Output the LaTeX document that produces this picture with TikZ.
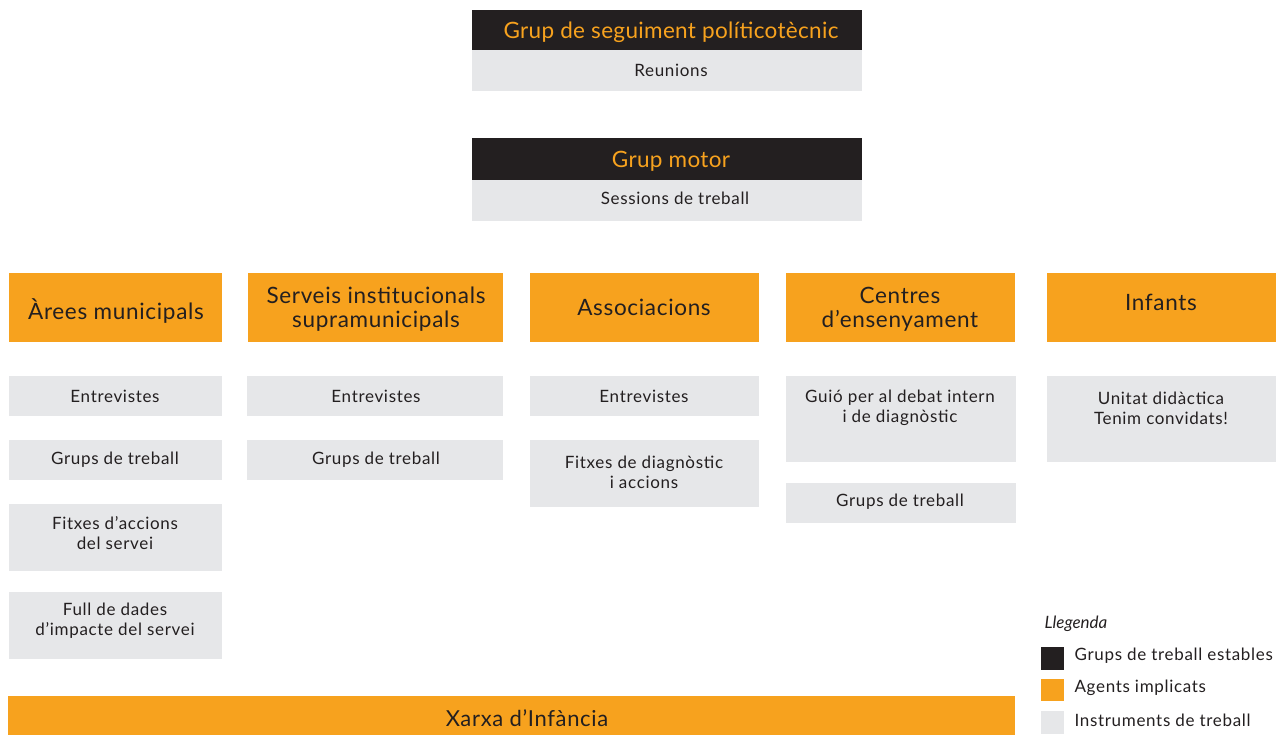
\documentclass[tikz,border=0pt]{standalone}
\usepackage{fontspec}
\setmainfont{Lato}
\newfontfamily\wideA[LetterSpace=4]{Lato}
\newfontfamily\wideB[LetterSpace=3]{Lato}
\newfontfamily\wideC[LetterSpace=1.5]{Lato}
\definecolor{ora}{HTML}{F7A21E}
\definecolor{blk}{HTML}{231F20}
\definecolor{gry}{HTML}{E6E7E9}
\definecolor{txt}{HTML}{231F20}
\begin{document}
\begin{tikzpicture}[x=1pt,y=-1pt,
  box/.style={inner sep=0pt, outer sep=0pt, anchor=north west},
  blkbox/.style={box, fill=blk},
  orabox/.style={box, fill=ora},
  grybox/.style={box, fill=gry},
  head/.style={text=ora, font=\wideC\fontsize{22.5}{24}\selectfont},
  agent/.style={text=txt, font=\wideB\fontsize{22.5}{24}\selectfont, align=center},
  instr/.style={text=txt, font=\wideA\fontsize{17}{20}\selectfont, align=center},
  leg/.style={text=txt, font=\wideA\fontsize{17}{20}\selectfont, anchor=west}
]
\useasboundingbox (0,0) rectangle (1285,735);
% top groups
\node[blkbox, minimum width=390, minimum height=40] (g1) at (472,10) {};
\node[grybox, minimum width=390, minimum height=41] (g1i) at (472,50) {};
\node[head] (g1t) at (671,32) {Grup de seguiment políticotècnic};
\node[instr] (g1it) at (671,70) {Reunions};
\node[blkbox, minimum width=390, minimum height=42] (g2) at (472,138) {};
\node[grybox, minimum width=390, minimum height=41] (g2i) at (472,180) {};
\node[head] (g2t) at (671,161) {Grup motor};
\node[instr] (g2it) at (675,198) {Sessions de treball};
% agents
\node[orabox, minimum width=213, minimum height=69] (a1) at (9,273) {};
\node[orabox, minimum width=255, minimum height=69] (a2) at (248,273) {};
\node[orabox, minimum width=229, minimum height=69] (a3) at (530,273) {};
\node[orabox, minimum width=229, minimum height=69] (a4) at (786,273) {};
\node[orabox, minimum width=229, minimum height=69] (a5) at (1047,273) {};
\node[agent] (a1t) at (116,311) {Àrees municipals};
\node[agent] (a2t) at (376,309) {Serveis institucionals\\supramunicipals};
\node[agent] (a3t) at (644,307) {Associacions};
\node[agent] (a4t) at (900,309) {Centres\\d’ensenyament};
\node[agent] (a5t) at (1161,302) {Infants};
% instruments col 1
\node[grybox, minimum width=213, minimum height=40] (i11) at (9,376) {};
\node[grybox, minimum width=213, minimum height=40] (i12) at (9,440) {};
\node[grybox, minimum width=213, minimum height=67] (i13) at (9,504) {};
\node[grybox, minimum width=213, minimum height=67] (i14) at (9,592) {};
\node[instr] at (115,396) {Entrevistes};
\node[instr] at (115,460) {Grups de treball};
\node[instr] at (115,533) {Fitxes d’accions\\del servei};
\node[instr] at (115,621) {Full de dades\\d’impacte del servei};
% col 2
\node[grybox, minimum width=256, minimum height=40] (i21) at (247,376) {};
\node[grybox, minimum width=256, minimum height=40] (i22) at (247,440) {};
\node[instr] at (376,396) {Entrevistes};
\node[instr] at (376,460) {Grups de treball};
% col 3
\node[grybox, minimum width=229, minimum height=40] (i31) at (530,376) {};
\node[grybox, minimum width=229, minimum height=67] (i32) at (530,440) {};
\node[instr] at (644,396) {Entrevistes};
\node[instr] at (644,472) {Fitxes de diagnòstic\\i accions};
% col 4
\node[grybox, minimum width=230, minimum height=86] (i41) at (786,376) {};
\node[grybox, minimum width=230, minimum height=40] (i42) at (786,483) {};
\node[instr] at (900,408) {Guió per al debat intern\\i de diagnòstic};
\node[instr] at (900,502) {Grups de treball};
% col 5
\node[grybox, minimum width=229, minimum height=86] (i51) at (1047,376) {};
\node[instr] at (1161,408) {Unitat didàctica\\Tenim convidats!};
% bottom bar
\node[orabox, minimum width=1007, minimum height=39] (xi) at (8,696) {};
\node[agent, font=\wideB\fontsize{22}{24}\selectfont] at (527,718) {Xarxa d’Infància};
% legend
\node[text=txt, anchor=west, font=\itshape\fontsize{17}{20}\selectfont] (lt) at (1041,624) {Llegenda};
\node[blkbox, minimum width=23, minimum height=23] (l1) at (1041,647) {};
\node[orabox, minimum width=23, minimum height=22] (l2) at (1041,679) {};
\node[grybox, minimum width=23, minimum height=23] (l3) at (1041,711) {};
\node[leg] at (1071,656) {Grups de treball estables};
\node[leg] at (1071,688) {Agents implicats};
\node[leg] at (1071,720) {Instruments de treball};
\end{tikzpicture}
\end{document}
